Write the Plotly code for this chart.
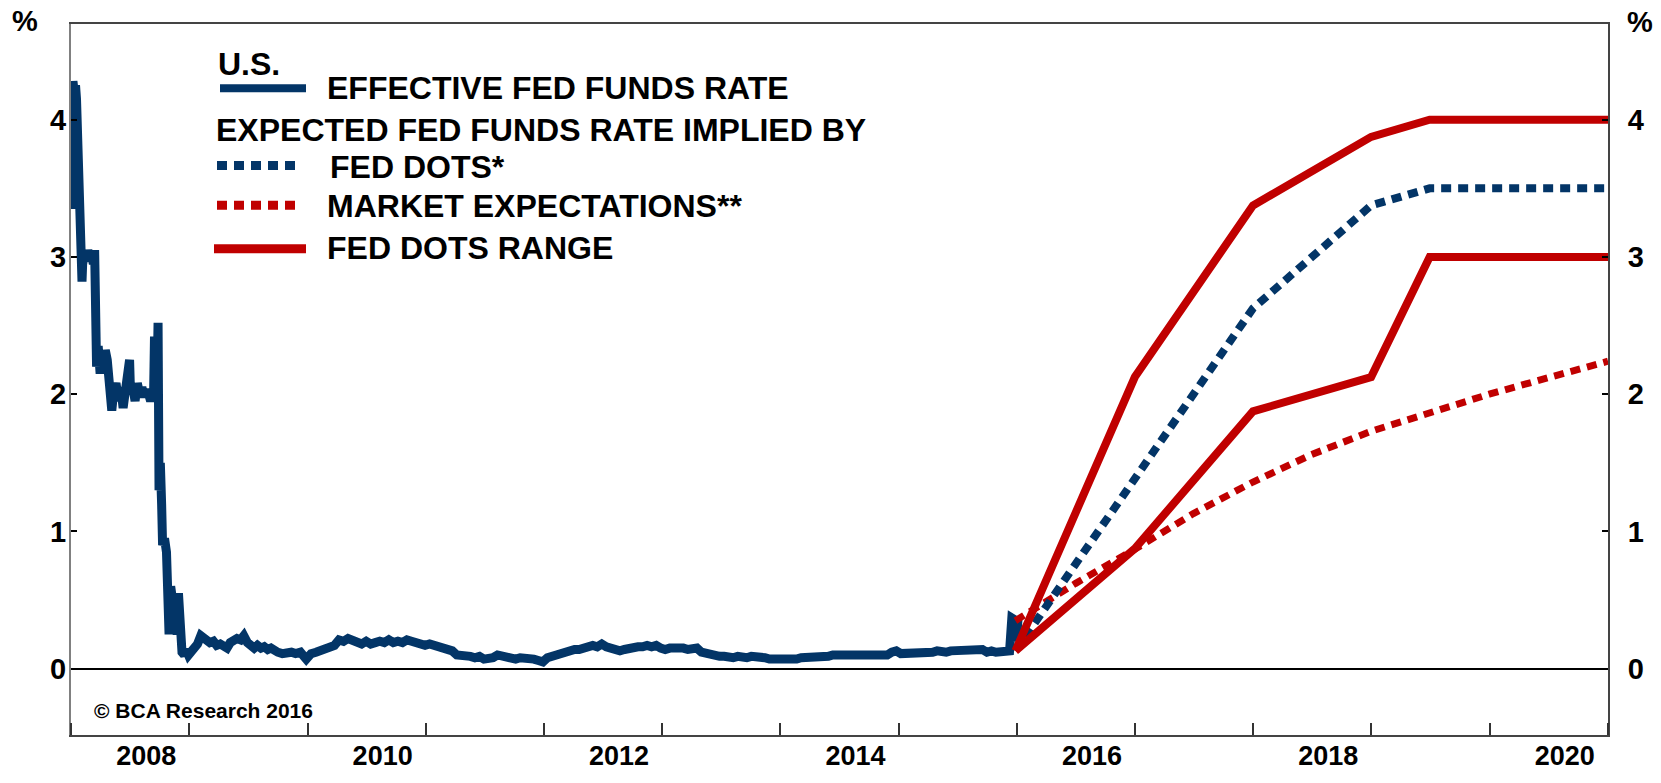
import plotly.graph_objects as go

# ---------------- data ----------------
effr_dates = [
    "2008-01-01", "2008-01-03", "2008-01-07", "2008-01-10", "2008-01-15", "2008-01-18",
    "2008-01-22", "2008-01-24", "2008-01-29", "2008-01-31", "2008-02-04", "2008-02-06",
    "2008-02-12", "2008-02-18", "2008-02-22", "2008-02-28", "2008-03-04", "2008-03-10",
    "2008-03-14", "2008-03-18", "2008-03-20", "2008-03-25", "2008-03-31", "2008-04-04",
    "2008-04-10", "2008-04-16", "2008-04-22", "2008-04-28", "2008-05-01", "2008-05-06",
    "2008-05-12", "2008-05-19", "2008-05-27", "2008-06-03", "2008-06-10", "2008-06-16",
    "2008-06-24", "2008-06-30", "2008-07-03", "2008-07-10", "2008-07-17", "2008-07-24",
    "2008-07-31", "2008-08-07", "2008-08-14", "2008-08-21", "2008-08-28", "2008-09-03",
    "2008-09-08", "2008-09-12", "2008-09-15", "2008-09-17", "2008-09-22", "2008-09-26",
    "2008-09-29", "2008-10-01", "2008-10-03", "2008-10-07", "2008-10-10", "2008-10-16",
    "2008-10-22", "2008-10-27", "2008-10-30", "2008-11-04", "2008-11-10", "2008-11-17",
    "2008-11-24", "2008-11-28", "2008-12-03", "2008-12-09", "2008-12-16", "2008-12-22",
    "2008-12-29",
    "2009-01-05", "2009-01-15", "2009-01-26", "2009-02-05", "2009-02-16", "2009-02-25",
    "2009-03-05", "2009-03-16", "2009-03-26", "2009-04-06", "2009-04-16", "2009-04-27",
    "2009-05-07", "2009-05-18", "2009-05-28", "2009-06-08", "2009-06-18", "2009-06-29",
    "2009-07-09", "2009-07-20", "2009-07-30", "2009-08-10", "2009-08-20", "2009-08-31",
    "2009-09-10", "2009-09-21", "2009-10-01", "2009-10-15", "2009-10-29", "2009-11-12",
    "2009-11-25", "2009-12-10", "2009-12-28",
    "2010-01-12", "2010-01-27", "2010-02-10", "2010-02-25", "2010-03-10", "2010-03-25",
    "2010-04-08", "2010-04-22", "2010-05-06", "2010-05-20", "2010-06-03", "2010-06-17",
    "2010-07-01", "2010-07-15", "2010-07-29", "2010-08-12", "2010-08-26", "2010-09-09",
    "2010-09-23", "2010-10-07", "2010-10-21", "2010-11-04", "2010-11-18", "2010-12-02",
    "2010-12-16", "2010-12-30",
    "2011-01-13", "2011-01-27", "2011-02-10", "2011-02-24", "2011-03-10", "2011-03-24",
    "2011-04-07", "2011-04-21", "2011-05-05", "2011-05-19", "2011-06-02", "2011-06-16",
    "2011-06-30", "2011-07-14", "2011-07-28", "2011-08-11", "2011-08-25", "2011-09-08",
    "2011-09-22", "2011-10-06", "2011-10-20", "2011-11-03", "2011-11-17", "2011-12-01",
    "2011-12-15", "2011-12-29",
    "2012-01-12", "2012-01-26", "2012-02-09", "2012-02-23", "2012-03-08", "2012-03-22",
    "2012-04-05", "2012-04-19", "2012-05-03", "2012-05-17", "2012-05-31", "2012-06-14",
    "2012-06-28", "2012-07-12", "2012-07-26", "2012-08-09", "2012-08-23", "2012-09-06",
    "2012-09-20", "2012-10-04", "2012-10-18", "2012-11-01", "2012-11-15", "2012-11-29",
    "2012-12-13", "2012-12-27",
    "2013-01-10", "2013-01-24", "2013-02-07", "2013-02-21", "2013-03-07", "2013-03-21",
    "2013-04-04", "2013-04-18", "2013-05-02", "2013-05-16", "2013-05-30", "2013-06-13",
    "2013-06-27", "2013-07-11", "2013-07-25", "2013-08-08", "2013-08-22", "2013-09-05",
    "2013-09-19", "2013-10-03", "2013-10-17", "2013-10-31", "2013-11-14", "2013-11-28",
    "2013-12-12", "2013-12-26",
    "2014-01-09", "2014-01-23", "2014-02-06", "2014-02-20", "2014-03-06", "2014-03-20",
    "2014-04-03", "2014-04-17", "2014-05-01", "2014-05-15", "2014-05-29", "2014-06-12",
    "2014-06-26", "2014-07-10", "2014-07-24", "2014-08-07", "2014-08-21", "2014-09-04",
    "2014-09-18", "2014-10-02", "2014-10-16", "2014-10-30", "2014-11-13", "2014-11-27",
    "2014-12-11", "2014-12-25",
    "2015-01-08", "2015-01-22", "2015-02-05", "2015-02-19", "2015-03-05", "2015-03-19",
    "2015-04-02", "2015-04-16", "2015-04-30", "2015-05-14", "2015-05-28", "2015-06-11",
    "2015-06-25", "2015-07-09", "2015-07-23", "2015-08-06", "2015-08-20", "2015-09-03",
    "2015-09-17", "2015-10-01", "2015-10-15", "2015-10-29", "2015-11-12", "2015-11-26",
    "2015-12-10", "2015-12-17", "2015-12-24", "2015-12-31", "2016-01-05",
]
effr_values = [
    3.35, 4.25, 4.28, 4.22, 4.25, 4.15,
    3.90, 3.55, 3.50, 3.10, 2.82, 2.95,
    3.02, 2.98, 3.05, 2.97, 3.02, 2.95,
    3.05, 2.50, 2.20, 2.35, 2.15, 2.30,
    2.20, 2.32, 2.25, 2.10, 1.95, 1.88,
    2.02, 2.08, 1.95, 2.05, 1.90, 2.00,
    2.10, 2.25, 2.00, 2.05, 1.95, 2.08,
    2.00, 2.05, 1.98, 2.03, 2.00, 1.95,
    2.00, 1.97, 2.42, 2.00, 1.95, 2.52,
    1.30, 2.20, 1.50, 1.20, 0.90, 0.95,
    0.85, 0.62, 0.25, 0.60, 0.45, 0.35,
    0.25, 0.55, 0.20, 0.12, 0.10, 0.14,
    0.10,
    0.12, 0.15, 0.18, 0.24, 0.22, 0.20,
    0.19, 0.20, 0.17, 0.18, 0.16, 0.15,
    0.19, 0.20, 0.22, 0.21, 0.24, 0.19,
    0.16, 0.15, 0.17, 0.15, 0.16, 0.14,
    0.15, 0.13, 0.12, 0.11, 0.12, 0.12,
    0.11, 0.12, 0.07,
    0.11, 0.12, 0.13, 0.14, 0.16, 0.17,
    0.21, 0.20, 0.22, 0.21, 0.19, 0.18,
    0.20, 0.18, 0.19, 0.20, 0.19, 0.21,
    0.19, 0.20, 0.19, 0.21, 0.20, 0.19,
    0.18, 0.17,
    0.18, 0.17, 0.16, 0.15, 0.14, 0.13,
    0.10, 0.10, 0.09, 0.09, 0.08, 0.09,
    0.07, 0.07, 0.08, 0.10, 0.09, 0.08,
    0.07, 0.07, 0.08, 0.08, 0.08, 0.07,
    0.06, 0.05,
    0.08, 0.09, 0.10, 0.11, 0.13, 0.13,
    0.14, 0.14, 0.15, 0.16, 0.17, 0.16,
    0.18, 0.16, 0.15, 0.14, 0.13, 0.14,
    0.15, 0.16, 0.16, 0.16, 0.17, 0.16,
    0.17, 0.15,
    0.14, 0.15, 0.15, 0.16, 0.15, 0.14,
    0.15, 0.15, 0.12, 0.11, 0.10, 0.09,
    0.09, 0.09, 0.08, 0.08, 0.09, 0.08,
    0.08, 0.09, 0.09, 0.08, 0.08, 0.07,
    0.07, 0.06,
    0.07, 0.07, 0.07, 0.07, 0.08, 0.08,
    0.09, 0.09, 0.09, 0.09, 0.09, 0.10,
    0.10, 0.09, 0.09, 0.09, 0.09, 0.09,
    0.09, 0.09, 0.09, 0.09, 0.09, 0.10,
    0.12, 0.13,
    0.11, 0.11, 0.11, 0.11, 0.11, 0.12,
    0.12, 0.12, 0.13, 0.12, 0.12, 0.13,
    0.13, 0.13, 0.13, 0.14, 0.14, 0.14,
    0.14, 0.12, 0.13, 0.12, 0.12, 0.12,
    0.13, 0.37, 0.36, 0.20, 0.36,
]

fc_dates = ["2015-12-28", "2016-12-31", "2017-12-31", "2018-12-31", "2019-06-30", "2021-01-01"]
dots_median = [0.13, 1.375, 2.625, 3.375, 3.5, 3.5]
dots_upper = [0.13, 2.125, 3.375, 3.875, 4.0, 4.0]
dots_lower = [0.13, 0.875, 1.875, 2.125, 3.0, 3.0]

mkt_dates = ["2015-12-28", "2016-06-30", "2016-12-31", "2017-06-30", "2017-12-31", "2018-06-30",
             "2018-12-31", "2019-06-30", "2019-12-31", "2020-06-30", "2021-01-01"]
mkt_values = [0.35, 0.62, 0.87, 1.13, 1.36, 1.56, 1.73, 1.87, 2.00, 2.12, 2.24]

year_ticks = [str(y) for y in range(2008, 2021)]
shown_years = ["2008", "2010", "2012", "2014", "2016", "2018", "2020"]
y_ticks = [0, 1, 2, 3, 4]

legend_header = "U.S."
legend_group = "EXPECTED FED FUNDS RATE IMPLIED BY"
name_effr = "EFFECTIVE FED FUNDS RATE"
name_dots = "FED DOTS*"
name_mkt = "MARKET EXPECTATIONS**"
name_range = "FED DOTS RANGE"
copyright_text = "© BCA Research 2016"

# ---------------- style ----------------
BLUE = "#033567"
RED = "#C00000"
FONT = "Liberation Sans, Arial, sans-serif"
W, H = 1661, 783
# plot area in page pixels: left 71, right 1608, top 24, bottom 742
ML, MT, MR, MB = 71, 24, W - 1608, H - 742
PW, PH = W - ML - MR, H - MT - MB


def px(x):
    return (x - ML) / PW


def py(y):
    return (H - MB - y) / PH


fig = go.Figure()
fig.add_trace(go.Scatter(x=effr_dates, y=effr_values, mode="lines",
                         line=dict(color=BLUE, width=9), name=name_effr, showlegend=False))
fig.add_trace(go.Scatter(x=mkt_dates, y=mkt_values, mode="lines",
                         line=dict(color=RED, width=7, dash="10px,7px"), name=name_mkt, showlegend=False))
fig.add_trace(go.Scatter(x=fc_dates, y=dots_median, mode="lines",
                         line=dict(color=BLUE, width=8, dash="10px,7px"), name=name_dots, showlegend=False))
fig.add_trace(go.Scatter(x=fc_dates, y=dots_lower, mode="lines",
                         line=dict(color=RED, width=8), name=name_range, showlegend=False))
fig.add_trace(go.Scatter(x=fc_dates, y=dots_upper, mode="lines",
                         line=dict(color=RED, width=8), name=name_range + " ", showlegend=False))
# same upper range series bound to the right-hand axis (transparent) so the right axis is drawn
fig.add_trace(go.Scatter(x=fc_dates, y=dots_upper, mode="lines", yaxis="y2",
                         line=dict(color="rgba(0,0,0,0)", width=0), hoverinfo="skip", showlegend=False))

yr = [-0.483, 4.697]
tick_font = dict(size=29, family=FONT, weight="bold", color="black")
fig.update_layout(
    width=W, height=H,
    margin=dict(l=ML, r=MR, t=MT, b=MB, pad=0),
    paper_bgcolor="white", plot_bgcolor="white",
    font=dict(family=FONT, color="black", size=26, weight="bold"),
    showlegend=False,
    xaxis=dict(
        type="date", range=["2008-01-01", "2021-01-01"],
        tick0="2008-01-01", dtick="M12", tickformat="%Y", ticklabelmode="period",
        labelalias={y: "" for y in year_ticks if y not in shown_years},
        ticks="inside", ticklen=12, tickwidth=1.5, tickcolor="#333333",
        showline=True, linecolor="#444444", linewidth=2, mirror=True,
        showgrid=False, zeroline=False,
        tickfont=dict(size=27, family=FONT, weight="bold", color="black"),
        ticklabelstandoff=-4, ticklabelshift=16,
    ),
    yaxis=dict(
        range=yr, tickvals=y_ticks, ticks="inside", ticklen=6, tickwidth=1.5, tickcolor="black",
        showline=True, linecolor="#808080", linewidth=2,
        showgrid=False, zeroline=True, zerolinecolor="black", zerolinewidth=2,
        tickfont=tick_font, ticklabelstandoff=-3,
    ),
    yaxis2=dict(
        range=yr, tickvals=y_ticks, overlaying="y", side="right", anchor="x",
        ticks="inside", ticklen=6, tickwidth=1.5, tickcolor="black",
        showline=True, linecolor="#444444", linewidth=2,
        showgrid=False, zeroline=False,
        tickfont=tick_font, ticklabelstandoff=12,
    ),
)

ann = []
ann.append(dict(text="%", x=px(25), y=py(21), xref="paper", yref="paper", showarrow=False,
                xanchor="center", yanchor="middle", font=dict(size=29, family=FONT, weight="bold")))
ann.append(dict(text="%", x=px(1640), y=py(22), xref="paper", yref="paper", showarrow=False,
                xanchor="center", yanchor="middle", font=dict(size=29, family=FONT, weight="bold")))
ann.append(dict(text=copyright_text, x=px(92), y=py(717), xref="paper", yref="paper", showarrow=False,
                xanchor="left", yanchor="middle", font=dict(size=21, family=FONT, weight="bold")))

legend_rows = [
    (legend_header, 216, 64),
    (name_effr, 325, 89),
    (legend_group, 214, 131),
    (name_dots, 328, 168),
    (name_mkt, 325, 208),
    (name_range, 325, 250),
]
for txt, lx, ly in legend_rows:
    ann.append(dict(text=txt, x=px(lx), y=py(ly), xref="paper", yref="paper", showarrow=False,
                    xanchor="left", yanchor="middle", font=dict(size=32, family=FONT, weight="bold")))
fig.update_layout(annotations=ann)

legend_keys = [
    (220, 306, 89, BLUE, 8, "solid"),
    (217, 302, 167, BLUE, 9, "10px,7px"),
    (217, 302, 207, RED, 9, "10px,7px"),
    (214, 306, 251, RED, 9, "solid"),
]
for x0, x1, yk, col, wd, ds in legend_keys:
    fig.add_shape(type="line", xref="paper", yref="paper", x0=px(x0), x1=px(x1), y0=py(yk), y1=py(yk),
                  line=dict(color=col, width=wd, dash=ds))

fig.write_html(
    "out.html",
    config={"displayModeBar": False},
    post_script="document.body.style.margin='0px';"
                "document.body.style.overflow='hidden';"
                "document.documentElement.style.overflow='hidden';",
)
